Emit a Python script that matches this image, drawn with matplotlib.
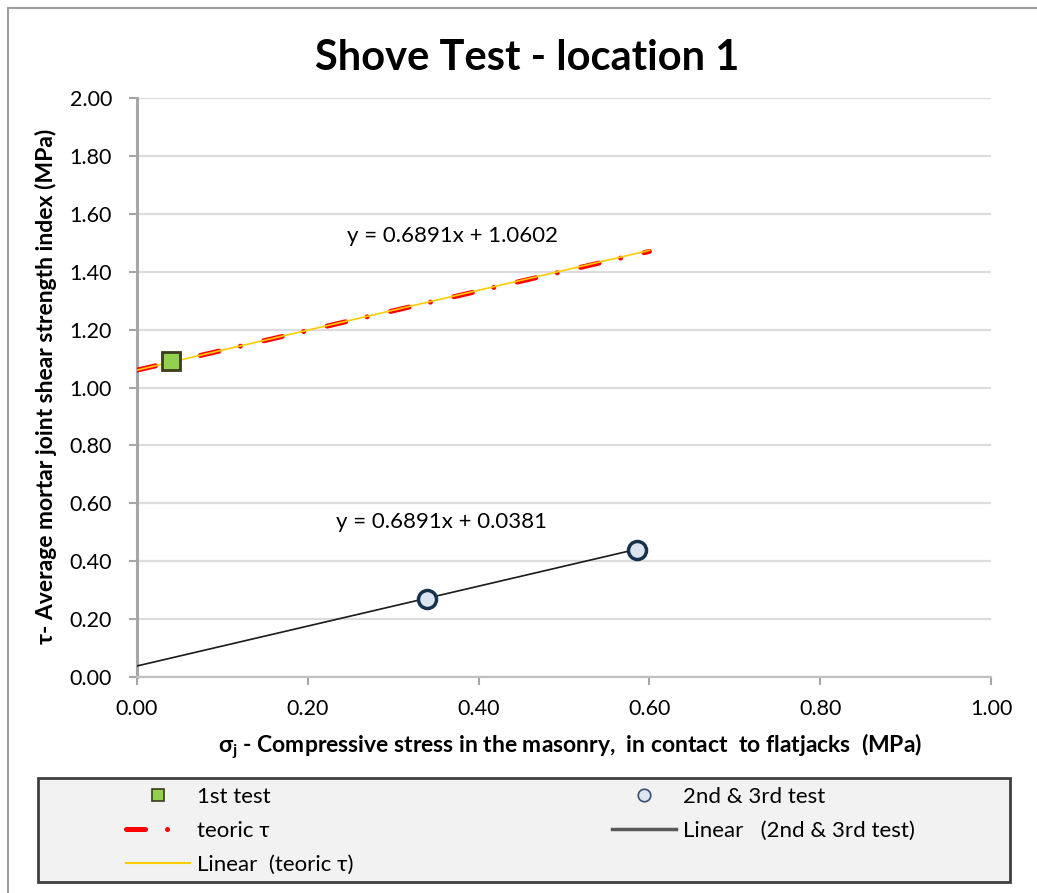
import numpy as np
import matplotlib
matplotlib.use("Agg")
import matplotlib.pyplot as plt
from matplotlib.lines import Line2D
from matplotlib.patches import Rectangle

plt.rcParams['font.family'] = ['Lato', 'DejaVu Sans']
plt.rcParams['mathtext.fontset'] = 'custom'
plt.rcParams['mathtext.rm'] = 'Lato'
plt.rcParams['mathtext.it'] = 'Lato:italic'
plt.rcParams['mathtext.bf'] = 'Lato:bold'

# data
first_x = [0.04]
first_y = [1.09]
tests_x = [0.34, 0.585]
tests_y = [0.27, 0.44]
teoric_x = [0.0, 0.60]
teoric_y = [1.06, 1.47]

# trendlines (from the equations shown on the chart)
slope = 0.6891
icpt_teoric = 1.0602
icpt_tests = 0.0381
trend_teoric_x = [0.0, 0.60]
trend_tests_x = [0.0, 0.585]

x_ticks = [0.0, 0.2, 0.4, 0.6, 0.8, 1.0]
y_ticks = [0.0, 0.2, 0.4, 0.6, 0.8, 1.0, 1.2, 1.4, 1.6, 1.8, 2.0]

W, H = 1037, 893
fig = plt.figure(figsize=(W / 100, H / 100), dpi=100)

# outer chart frame
fig.patches.append(Rectangle((8 / W, -0.05), 1.1, 1 - 8 / H + 0.05, transform=fig.transFigure,
                             fill=False, edgecolor='#a0a0a0', lw=1.5))

ax = fig.add_axes([137 / W, 216 / H, 854 / W, 579 / H])
ax.set_xlim(0, 1)
ax.set_ylim(0, 2)
ax.set_xticks(x_ticks)
ax.set_yticks(y_ticks)
ax.set_xticklabels([f"{v:.2f}" for v in x_ticks])
ax.set_yticklabels([f"{v:.2f}" for v in y_ticks])
ax.tick_params(axis='both', colors='#a6a6a6', labelcolor='black', labelsize=15.5,
               length=6, width=1.5, direction='out')
ax.tick_params(axis='y', pad=12)
ax.tick_params(axis='x', pad=10)
ax.grid(axis='y', color='#dcdcdc', lw=1.6)
ax.set_axisbelow(True)
for s in ['top', 'right']:
    ax.spines[s].set_visible(False)
ax.spines['left'].set_color('#a6a6a6')
ax.spines['left'].set_linewidth(2.2)
ax.spines['bottom'].set_color('#c0c0c0')
ax.spines['bottom'].set_linewidth(1.6)

red, = ax.plot(teoric_x, teoric_y, color='#ff0000', lw=3.6, dash_capstyle='round', zorder=3)
red.set_dashes([3.8, 4.4, 0.01, 4.8])
ax.plot(trend_teoric_x, np.polyval([slope, icpt_teoric], trend_teoric_x),
        color='#ffcc00', lw=1.2, zorder=4)
ax.plot(trend_tests_x, np.polyval([slope, icpt_tests], trend_tests_x),
        color='#1a1a1a', lw=1.2, zorder=4)
ax.plot(first_x, first_y, ls='none', marker='s', ms=13, mfc='#92d050', mec='#3b3b1e',
        mew=2, zorder=6)
ax.plot(tests_x, tests_y, ls='none', marker='o', ms=13, mfc='#dbe5f1', mec='#17324d',
        mew=2.5, zorder=6)

ax.text(0.369, 1.523, 'y = 0.6891x + 1.0602', fontsize=16, ha='center', va='center')
ax.text(0.356, 0.535, 'y = 0.6891x + 0.0381', fontsize=16, ha='center', va='center')

fig.text(527 / W, 1 - 58 / H, 'Shove Test - location 1', fontsize=30, fontweight='bold',
         ha='center', va='center')
fig.text(570 / W, 1 - 746 / H,
         r'σ$_\mathregular{j}$ - Compressive stress in the masonry,  in contact  to flatjacks  (MPa)',
         fontsize=16.5, fontweight='bold', ha='center', va='center')
fig.text(46 / W, 1 - 386 / H, 'τ- Average mortar joint shear strength index (MPa)',
         fontsize=16.5, fontweight='bold', rotation=90, ha='center', va='center')

# legend box
fig.patches.append(Rectangle((38 / W, 1 - 882 / H), 972 / W, 104 / H, transform=fig.transFigure,
                             facecolor='#f2f2f2', edgecolor='#404040', lw=2, zorder=1))

h_first = Line2D([], [], ls='none', marker='s', ms=9, mfc='#92d050', mec='#3b3b1e', mew=1.2)
h_red = Line2D([], [], color='#ff0000', lw=3.6, dash_capstyle='round')
h_red.set_dashes([3.8, 4.4, 0.01, 4.8])
h_yel = Line2D([], [], color='#ffcc00', lw=1.5)
h_tests = Line2D([], [], ls='none', marker='o', ms=9, mfc='#dbe5f1', mec='#3a5070', mew=1.2)
h_blk = Line2D([], [], color='#595959', lw=2.5)

leg_kw = dict(loc='upper left', frameon=False, fontsize=16, handlelength=2.9,
              handletextpad=0.3, labelspacing=0.62, borderpad=0, borderaxespad=0)
leg1 = fig.legend([h_first, h_red, h_yel], ['1st test', 'teoric τ', 'Linear  (teoric τ)'],
                  bbox_to_anchor=(126 / W, 1 - 787 / H), **leg_kw)
leg2 = fig.legend([h_tests, h_blk], ['2nd & 3rd test', 'Linear   (2nd & 3rd test)'],
                  bbox_to_anchor=(612 / W, 1 - 787 / H), **leg_kw)
leg1.set_zorder(5)
leg2.set_zorder(5)

fig.savefig('out.png', dpi=100)
